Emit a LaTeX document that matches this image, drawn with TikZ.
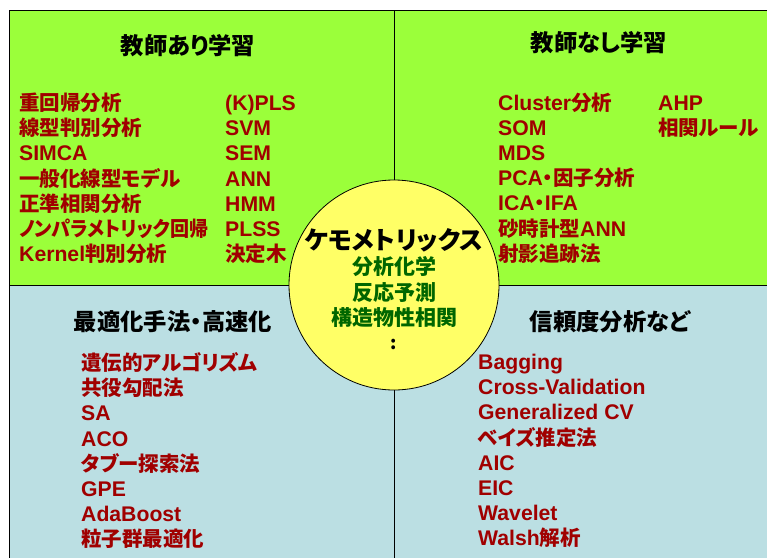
\documentclass[tikz,border=0pt]{standalone}
\usepackage{graphicx}
\usepackage{fontspec}
\setmainfont{Liberation Sans}
\newfontfamily\jpfont[RawFeature=+palt]{Noto Sans CJK JP}
\newcommand\J[1]{{\jpfont\fontsize{20.5}{24}\selectfont #1}}
\definecolor{bggreen}{HTML}{9BFF3A}
\definecolor{bgblue}{HTML}{BBDFE3}
\definecolor{itemred}{HTML}{A00000}
\definecolor{circyellow}{HTML}{FFFF66}
\definecolor{textgreen}{HTML}{006600}
\tikzset{
  item/.style={text=itemred, font=\bfseries\fontsize{21.2}{24}\selectfont, inner sep=0pt, anchor=base west},
  heading/.style={text=black, font=\jpfont\bfseries\fontsize{23.3}{26}\selectfont, inner sep=0pt, anchor=center},
  circtext/.style={text=textgreen, font=\jpfont\bfseries\fontsize{21}{24}\selectfont, inner sep=0pt, anchor=center},
  divider/.style={draw=black, line width=1pt}
}
\begin{document}
\begin{tikzpicture}[x=1pt,y=-1pt]
\useasboundingbox (0,0) rectangle (767,557);
\clip (0,0) rectangle (767,557);
% quadrants
\fill[bggreen] (9,10) rectangle (394,285);
\fill[bggreen] (394,10) rectangle (780,285);
\fill[bgblue] (9,285) rectangle (394,570);
\fill[bgblue] (394,285) rectangle (780,570);
\draw[divider] (9,570) -- (9,10) -- (780,10);
\draw[divider] (394,10) -- (394,570);
\draw[divider] (9,285) -- (780,285);
% headings
\node[heading] (h1) at (188,46) {教師あり学習};
\node[heading] (h2) at (599,43) {教師なし学習};
\node[heading] (h3) at (173,322) {最適化手法・高速化};
\node[heading] (h4) at (610,322) {信頼度分析など};
% top-left
\foreach \t [count=\i] in {\J{重回帰分析},\J{線型判別分析},SIMCA,\J{一般化線型モデル},\J{正準相関分析},\scalebox{0.93}[1]{\J{ノンパラメトリック回帰}},Kernel\J{判別分析}}
  {\node[item] (tla\i) at (19,{110.5+25.2*(\i-1)}) {\t};}
\foreach \t [count=\i] in {(K)PLS,SVM,SEM,ANN,HMM,PLSS,\J{決定木}}
  {\node[item] (tlb\i) at (225,{110.5+25.2*(\i-1)}) {\t};}
% top-right
\foreach \t [count=\i] in {Cluster\J{分析},SOM,MDS,PCA\J{・因子分析},ICA\J{・}IFA,\J{砂時計型}ANN,\J{射影追跡法}}
  {\node[item] (tra\i) at (498,{110+25.2*(\i-1)}) {\t};}
\foreach \t [count=\i] in {AHP,\J{相関ルール}}
  {\node[item] (trb\i) at (658,{110+25.2*(\i-1)}) {\t};}
% bottom-left
\foreach \t [count=\i] in {\J{遺伝的アルゴリズム},\J{共役勾配法},SA,ACO,\J{タブー探索法},GPE,AdaBoost,\J{粒子群最適化}}
  {\node[item] (bl\i) at (81,{370.5+25.2*(\i-1)}) {\t};}
% bottom-right
\foreach \t [count=\i] in {Bagging,Cross-Validation,Generalized CV,\J{ベイズ推定法},AIC,EIC,Wavelet,Walsh\J{解析}}
  {\node[item] (br\i) at (478,{369.5+25.2*(\i-1)}) {\t};}
% centre circle
\node[circle, fill=circyellow, draw=black, line width=0.8pt, minimum size=210pt, inner sep=0pt] (c) at (394,285) {};
\node[text=black, font=\jpfont\bfseries\fontsize{25}{28}\selectfont, inner sep=0pt] (ct) at (394,240) {ケモメトリックス};
\node[circtext] (c1) at (394,267) {分析化学};
\node[circtext] (c2) at (394,293) {反応予測};
\node[circtext] (c3) at (394,318) {構造物性相関};
\node[text=black, font=\jpfont\bfseries\fontsize{18}{20}\selectfont, inner sep=0pt] (c4) at (394,344) {:};
\end{tikzpicture}
\end{document}
